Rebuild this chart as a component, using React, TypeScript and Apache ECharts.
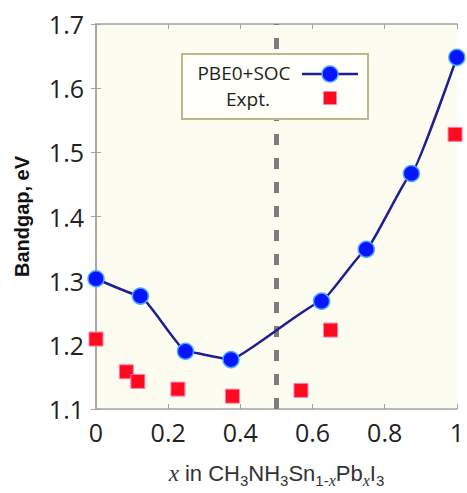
import React, { useEffect, useRef } from 'react';
import * as echarts from 'echarts';

const seriesNames = ['PBE0+SOC', 'Expt.'];
const pbeX = [0, 0.123, 0.248, 0.374, 0.625, 0.749, 0.874, 1.0];
const pbeY = [1.303, 1.276, 1.19, 1.177, 1.268, 1.349, 1.467, 1.648];
const exptX = [0, 0.084, 0.116, 0.227, 0.378, 0.568, 0.65, 0.995];
const exptY = [1.209, 1.158, 1.143, 1.131, 1.12, 1.129, 1.223, 1.528];
const boundaryX = 0.5;
const xTicks = { min: 0, max: 1, interval: 0.2 };
const yTicks = { min: 1.1, max: 1.7, interval: 0.1 };

export default function App() {
  const ref = useRef<HTMLDivElement>(null);
  useEffect(() => {
    document.body.style.margin = '0';
    if (!ref.current) return;
    const chart = echarts.init(ref.current, undefined, { renderer: 'svg' });
    const frame = { lineStyle: { color: '#a3a3a3', width: 1.5 } };
    const tick = { inside: true, length: 5, lineStyle: { color: '#a3a3a3', width: 1 } };
    const labelFont = { fontFamily: '"Open Sans", sans-serif', fontSize: 25, color: '#222' };
    const Z = 100;
    chart.setOption({
      animation: false,
      backgroundColor: '#ffffff',
      grid: {
        left: 96, right: 7, top: 24, bottom: 75,
        show: true, backgroundColor: '#fcfcf0', borderWidth: 0,
      },
      xAxis: [
        {
          type: 'value', ...xTicks, position: 'bottom',
          axisLine: { show: true, ...frame }, axisTick: tick, splitLine: { show: false },
          axisLabel: { ...labelFont, margin: 10 },
          name: '{i|x} in CH{s|3}NH{s|3}Sn{s|1-}{si|x}Pb{si|x}I{s|3}',
          nameLocation: 'middle', nameGap: 49,
          nameTextStyle: {
            fontFamily: 'Arial, "Liberation Sans", sans-serif', fontSize: 22, color: '#333', lineHeight: 30,
            rich: {
              i: { fontFamily: '"Times New Roman", "Liberation Serif", serif', fontStyle: 'italic', fontSize: 23, color: '#333', lineHeight: 30 },
              s: { fontFamily: 'Arial, "Liberation Sans", sans-serif', fontSize: 15, color: '#333', lineHeight: 14, verticalAlign: 'bottom' },
              si: { fontFamily: '"Times New Roman", "Liberation Serif", serif', fontStyle: 'italic', fontSize: 16, color: '#333', lineHeight: 14, verticalAlign: 'bottom' },
            },
          },
        },
        {
          type: 'value', ...xTicks, position: 'top',
          axisLine: { show: true, ...frame }, axisTick: tick, splitLine: { show: false },
          axisLabel: { show: false },
        },
      ],
      yAxis: [
        {
          type: 'value', ...yTicks, position: 'left',
          axisLine: { show: true, ...frame }, axisTick: tick, splitLine: { show: false },
          axisLabel: { ...labelFont, margin: 12 },
          name: 'Bandgap, eV', nameLocation: 'middle', nameRotate: 90, nameGap: 64,
          nameTextStyle: { fontFamily: 'Arial, "Liberation Sans", sans-serif', fontWeight: 'bold', fontSize: 20, color: '#111' },
        },
        {
          type: 'value', ...yTicks, position: 'right',
          axisLine: { show: true, ...frame }, axisTick: tick, splitLine: { show: false },
          axisLabel: { show: false },
        },
      ],
      series: [
        {
          name: seriesNames[0],
          type: 'line',
          data: pbeX.map((x, i) => [x, pbeY[i]]),
          smooth: 0.1,
          smoothMonotone: 'x',
          clip: false,
          symbol: 'circle',
          symbolSize: 16,
          lineStyle: { color: '#1e1e8e', width: 2.5 },
          itemStyle: { color: '#0614ff', borderColor: '#4ea6ff', borderWidth: 1.5, opacity: 1 },
          z: 4,
          markLine: {
            silent: true,
            symbol: ['none', 'none'],
            label: { show: false },
            lineStyle: { color: '#7c7c7c', width: 5, type: [11, 13] },
            data: [{ xAxis: boundaryX }],
            z: 1,
          },
        },
        {
          name: seriesNames[1],
          type: 'scatter',
          data: exptX.map((x, i) => [x, exptY[i]]),
          clip: false,
          symbol: 'rect',
          symbolSize: 14,
          itemStyle: { color: '#ff0a1e', borderColor: '#ff7fb0', borderWidth: 1, opacity: 1 },
          z: 5,
        },
      ],
      graphic: [
        { type: 'rect', z: Z, shape: { x: 182, y: 54, width: 186, height: 65 }, style: { fill: '#fffffa', stroke: '#bcb88e', lineWidth: 2 } },
        { type: 'text', z: Z + 1, x: 244, y: 73, style: { text: seriesNames[0], fill: '#1e1e1e', font: '19px "Open Sans", sans-serif', align: 'center', verticalAlign: 'middle' } },
        { type: 'line', z: Z + 1, shape: { x1: 302, y1: 74, x2: 358, y2: 74 }, style: { stroke: '#1e1e8e', lineWidth: 2.5 } },
        { type: 'circle', z: Z + 2, shape: { cx: 330, cy: 74, r: 8 }, style: { fill: '#0614ff', stroke: '#4ea6ff', lineWidth: 1.5 } },
        { type: 'text', z: Z + 1, x: 248, y: 99, style: { text: seriesNames[1], fill: '#1e1e1e', font: '19px "Open Sans", sans-serif', align: 'center', verticalAlign: 'middle' } },
        { type: 'rect', z: Z + 1, shape: { x: 323.5, y: 91.5, width: 13, height: 13 }, style: { fill: '#ff0a1e', stroke: '#ff7fb0', lineWidth: 1 } },
      ],
    });
    return () => chart.dispose();
  }, []);
  return <div ref={ref} style={{ width: 467, height: 493 }} />;
}
